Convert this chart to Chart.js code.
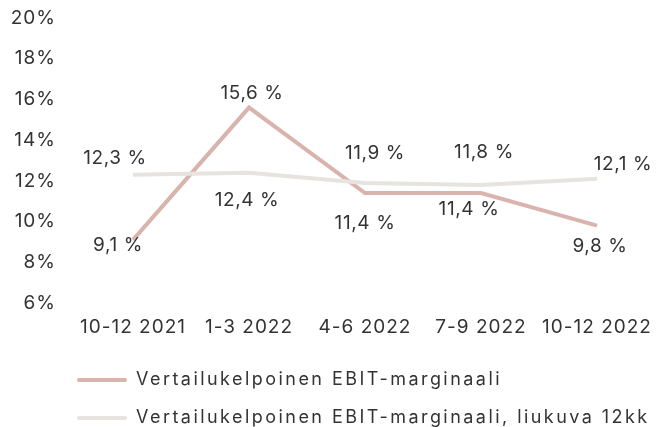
<!DOCTYPE html>
<html>
<head>
<meta charset="utf-8">
<script src="https://cdn.jsdelivr.net/npm/chart.js@4"></script>
<style>
  html, body { margin: 0; padding: 0; background: #fff; }
  #wrap { width: 668px; height: 427px; }
</style>
</head>
<body>
<div id="wrap"><canvas id="chart" width="668" height="427"></canvas></div>
<script>
const categories = ['10-12 2021', '1-3 2022', '4-6 2022', '7-9 2022', '10-12 2022'];
const ebitMargin = [9.1, 15.6, 11.4, 11.4, 9.8];
const ebitRolling = [12.3, 12.4, 11.9, 11.8, 12.1];
const seriesNames = [
  'Vertailukelpoinen EBIT-marginaali',
  'Vertailukelpoinen EBIT-marginaali, liukuva 12kk',
];
const yTicks = [6, 8, 10, 12, 14, 16, 18, 20];

const textColor = '#333333';
const fontFamily = 'Inter, "Noto Sans", sans-serif';

// label offsets from the point (dx, dy), per dataset
const labelOffsets = [
  [[-15, 5], [3, -14], [0, 30], [-12, 16], [3, 21]],
  [[-18, -16], [-2, 28], [10, -30], [3, -33], [26, -15]],
];

const fmt = (v) => v.toFixed(1).replace('.', ',') + ' %';

const valueLabels = {
  id: 'valueLabels',
  beforeDraw(chart) {
    chart.ctx.letterSpacing = '1px';
  },
  afterDatasetsDraw(chart) {
    const ctx = chart.ctx;
    ctx.save();
    ctx.font = '19px ' + fontFamily;
    ctx.letterSpacing = '0.6px';
    ctx.fillStyle = textColor;
    ctx.textAlign = 'center';
    ctx.textBaseline = 'middle';
    chart.data.datasets.forEach((ds, i) => {
      chart.getDatasetMeta(i).data.forEach((pt, j) => {
        const off = labelOffsets[i][j];
        ctx.fillText(fmt(ds.data[j]), pt.x + off[0], pt.y + off[1]);
      });
    });
    ctx.restore();
  },
};

// move legend to line up under the plot, wider letter spacing
const legendShift = {
  id: 'legendShift',
  afterLayout(chart) {
    const lg = chart.legend;
    lg.left = 57;
    lg.top += 10;
    if (!lg._spaced) {
      const orig = lg.draw.bind(lg);
      lg.draw = function () {
        const c = this.ctx;
        const prev = c.letterSpacing;
        c.letterSpacing = '2.45px';
        orig();
        c.letterSpacing = prev;
      };
      lg._spaced = true;
    }
  },
};

Chart.defaults.font.family = fontFamily;
Chart.defaults.color = textColor;

new Chart(document.getElementById('chart').getContext('2d'), {
  type: 'line',
  data: {
    labels: categories,
    datasets: [
      {
        label: seriesNames[0],
        data: ebitMargin,
        borderColor: '#d8b4ac',
        backgroundColor: '#d8b4ac',
        borderWidth: 4,
        pointRadius: 0,
        tension: 0,
        order: 1,
      },
      {
        label: seriesNames[1],
        data: ebitRolling,
        borderColor: '#e7e3de',
        backgroundColor: '#e7e3de',
        borderWidth: 4,
        pointRadius: 0,
        tension: 0,
        order: 0,
      },
    ],
  },
  options: {
    responsive: false,
    animation: false,
    layout: { padding: { top: 18, right: 13, bottom: 0, left: 0 } },
    plugins: {
      legend: {
        position: 'bottom',
        align: 'start',
        labels: {
          boxWidth: 50,
          boxHeight: 4,
          padding: 20,
          useBorderRadius: true,
          borderRadius: 2,
          font: { size: 18 },
          color: textColor,
          sort: (a, b) => a.datasetIndex - b.datasetIndex,
          generateLabels: (chart) =>
            Chart.defaults.plugins.legend.labels.generateLabels(chart).map((it) => {
              it.lineWidth = 0;
              return it;
            }),
        },
      },
      tooltip: { enabled: false },
    },
    scales: {
      x: {
        offset: true,
        grid: { display: false, drawTicks: false },
        border: { display: false },
        ticks: { padding: 13, font: { size: 19 }, maxRotation: 0 },
        afterFit: (s) => { s.height = 38; },
      },
      y: {
        min: 6,
        max: 20,
        afterBuildTicks: (s) => { s.ticks = yTicks.map((v) => ({ value: v })); },
        grid: { display: false, drawTicks: false },
        border: { display: false },
        ticks: { padding: 19, font: { size: 19 }, callback: (v) => v + '%' },
        afterFit: (s) => {
          s.width = 75;
          s.paddingTop = 0;
          s.paddingBottom = 0;
        },
      },
    },
  },
  plugins: [valueLabels, legendShift],
});
</script>
</body>
</html>
